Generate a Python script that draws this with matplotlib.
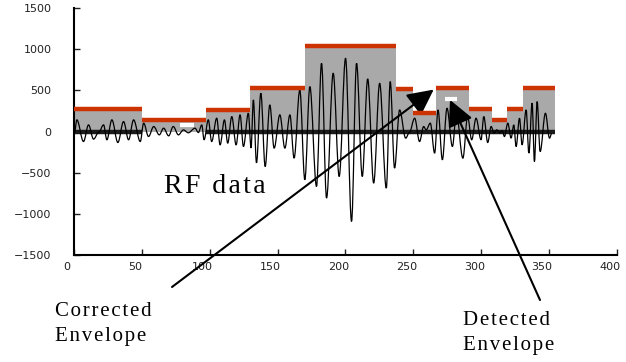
import matplotlib
matplotlib.use("Agg")
import matplotlib.pyplot as plt
from matplotlib.path import Path
from matplotlib.patches import PathPatch
from matplotlib.transforms import ScaledTranslation

# ---------------- data ----------------
seg_edges = [0, 50, 97, 130, 170, 237, 250, 267, 291, 308, 319, 331, 354]
corrected_env = [275, 142, 267, 525, 1035, 515, 231, 527, 272, 142, 272, 527]

detected_left = [78, 273]
detected_right = [88.5, 282]
detected_val = [81, 400]

zero_left = [0, 97]
zero_right = [50, 354]

# RF data: turning points
rf_x = [0.5, 2.2, 7.1, 10.8, 14.5, 18.2, 21.9, 24.3, 28.0, 32.4, 36.6, 40.3, 44.0, 48.9,
        51.4, 55.0, 58.8, 62.9, 66.1, 69.8, 73.2, 77.0, 80.7, 84.3, 89.2, 91.7, 94.2, 95.9,
        99.0, 101.5, 105.2, 107.7, 110.9, 113.3, 116.3, 119.5, 122.4, 124.9, 128.5, 130.5,
        132.2, 134.5, 137.7, 140.9, 144.3, 147.5, 151.7, 155.4, 159.1, 162.2, 166.4, 170.1,
        173.8, 178.7, 182.4, 186.1, 191.0, 195.4, 200.1, 204.5, 208.2, 212.4, 216.4, 220.8,
        225.2, 230.1, 233.0, 236.2, 239.9, 244.4, 247.0, 251.0, 254.6, 257.6, 259.5, 262.5,
        265.7, 268.2, 271.4, 274.8, 278.8, 281.7, 286.5, 290.0, 293.0, 296.2, 299.9, 301.9,
        304.8, 307.3, 309.5, 311.5, 313.5, 315.5, 317.1, 319.6, 322.0, 324.0, 325.7, 328.2,
        330.1, 333.1, 335.1, 337.5, 339.2, 341.2, 343.4, 347.3, 350.3, 352.0]
rf_y = [-10, 142, -121, 81, -92, -12, 81, -100, 142, -133, 121, -100, 142, -121,
        102, -60, 61, -40, 41, -52, 61, -40, 20, -15, 41, -12, 81, -100,
        142, -121, 162, -162, 142, -141, 182, -162, 203, -182, 223, -200,
        385, -380, 466, -425, 324, -202, 203, -202, 203, -323, 506, -586,
        546, -667, 830, -808, 709, -546, 891, -1092, 830, -546, 640, -626,
        587, -687, 607, -444, 263, -80, -15, 162, -121, 61, 20, 102,
        -262, 263, -343, 284, -182, 223, -323, 182, -100, 162, -100, 182,
        -133, 61, -20, 20, -15, 10, -60, 102, -80, 81, -182, 162,
        -162, 263, -262, 345, -364, 364, -243, 223, -80, -20]

x_ticks = [0, 50, 100, 150, 200, 250, 300, 350, 400]
y_ticks = [-1500, -1000, -500, 0, 500, 1000, 1500]

HS = "\u200a"  # hair space for the letter-spaced captions


def spaced(s):
    return "\n".join(HS.join(line) for line in s.split("\n"))


# ---------------- figure ----------------
fig = plt.figure(figsize=(6.26, 3.62), dpi=100)
ax = fig.add_axes([0.118, 0.2956, 0.8676, 0.682])
ax.set_xlim(0, 400)
ax.set_ylim(-1500, 1500)

widths = [seg_edges[i + 1] - seg_edges[i] for i in range(len(corrected_env))]
ax.bar(seg_edges[:-1], corrected_env, width=widths, align="edge",
       color="#a9a9a9", linewidth=0, zorder=1)

ax.hlines([0] * len(zero_left), zero_left, zero_right, color="#1a1a1a", lw=3.2, zorder=2)

# smooth curve through the turning points (cubic segments, flat tangents at each point)
verts = [(rf_x[0], rf_y[0])]
codes = [Path.MOVETO]
k = 0.36
for i in range(1, len(rf_x)):
    x0, y0, x1, y1 = rf_x[i - 1], rf_y[i - 1], rf_x[i], rf_y[i]
    dx = x1 - x0
    verts += [(x0 + k * dx, y0), (x1 - k * dx, y1), (x1, y1)]
    codes += [Path.CURVE4] * 3
ax.add_patch(PathPatch(Path(verts, codes), facecolor="none", edgecolor="black",
                       lw=0.9, zorder=3))

ax.hlines(corrected_env, seg_edges[:-1], seg_edges[1:], color="#cc3300", lw=3.2, zorder=4)
ax.hlines(detected_val, detected_left, detected_right, color="white", lw=3, zorder=4)

for s in ["top", "right"]:
    ax.spines[s].set_visible(False)
for s in ["left", "bottom"]:
    ax.spines[s].set_linewidth(1.5)

ax.set_xticks(x_ticks)
ax.set_yticks(y_ticks)
ax.tick_params(direction="in", length=4, width=1, labelsize=8, colors="#222222")
ax.tick_params(axis="y", pad=16)
ax.tick_params(axis="x", pad=5)
for lbl in ax.get_xticklabels():
    lbl.set_transform(lbl.get_transform() + ScaledTranslation(-0.07, 0, fig.dpi_scale_trans))

serif = ["Liberation Serif", "DejaVu Serif"]
fig.text(215 / 626, 1 - 187 / 362, spaced("RF data"), fontsize=20, family=serif,
         ha="center", va="center")
fig.text(55 / 626, 1 - 302 / 362, spaced("Corrected\nEnvelope"), fontsize=15, family=serif,
         ha="left", va="top", linespacing=1.45)
fig.text(463 / 626, 1 - 311 / 362, spaced("Detected\nEnvelope"), fontsize=15, family=serif,
         ha="left", va="top", linespacing=1.4)

arrow_style = dict(arrowstyle="-|>,head_length=1.0,head_width=0.5", color="black",
                   lw=1.5, mutation_scale=16, shrinkA=0, shrinkB=0)
ax.annotate("", xy=(265, 510), xycoords="data", xytext=(172, 362 - 287),
            textcoords="figure pixels", arrowprops=arrow_style, annotation_clip=False)
ax.annotate("", xy=(277, 385), xycoords="data", xytext=(540, 362 - 300),
            textcoords="figure pixels", arrowprops=arrow_style, annotation_clip=False)

fig.savefig("out.png", dpi=100)
